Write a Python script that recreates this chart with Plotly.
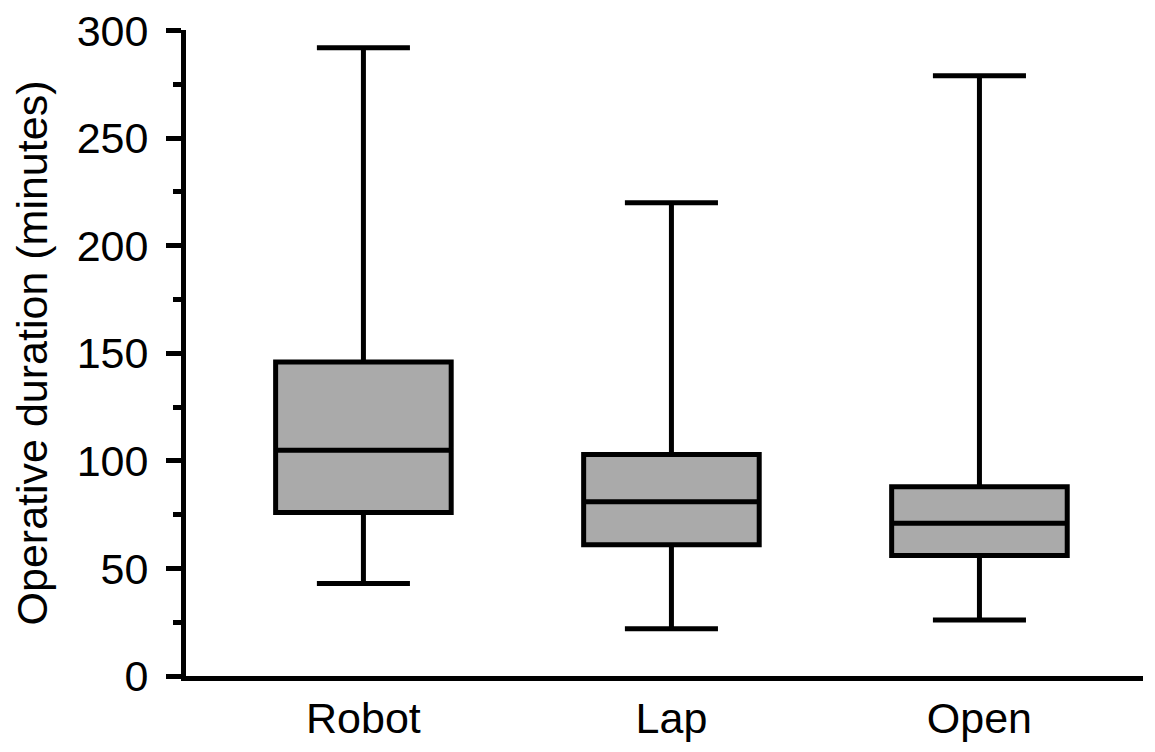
import plotly.graph_objects as go

categories = ["Robot", "Lap", "Open"]
q1 = [76, 61, 56]
median = [105, 81, 71]
q3 = [146, 103, 88]
lower = [43, 22, 26]
upper = [292, 220, 279]

fig = go.Figure()
fig.add_trace(go.Box(
    x=categories, q1=q1, median=median, q3=q3,
    lowerfence=lower, upperfence=upper,
    fillcolor="#aaaaaa",
    line=dict(color="black", width=5),
    whiskerwidth=0.53,
    width=0.57,
    boxpoints=False,
    showlegend=False,
    hoverinfo="skip",
))

font_family = "Liberation Sans, Arial, sans-serif"
fig.update_layout(
    width=1155, height=752,
    margin=dict(l=178, r=20, t=22, b=84, autoexpand=False),
    plot_bgcolor="white", paper_bgcolor="white",
    font=dict(family=font_family, color="black"),
    xaxis=dict(
        type="category",
        range=[-0.576, 2.531],
        showline=True, linecolor="black", linewidth=5,
        ticks="", showgrid=False, zeroline=False,
        tickfont=dict(size=43),
    ),
    yaxis=dict(
        range=[0, 300.3],
        showline=True, linecolor="black", linewidth=5,
        ticks="outside", ticklen=15, tickwidth=5, tickcolor="black",
        dtick=50, tick0=0,
        ticklabelstandoff=9,
        ticklabeloverflow="allow",
        minor=dict(ticks="outside", ticklen=8, tickwidth=5, tickcolor="black", dtick=25, tick0=0, showgrid=False),
        showgrid=False, zeroline=False,
        tickfont=dict(size=43),
        title=dict(text="Operative duration (minutes)", font=dict(size=43), standoff=18),
    ),
)

fig.write_html("out.html")
